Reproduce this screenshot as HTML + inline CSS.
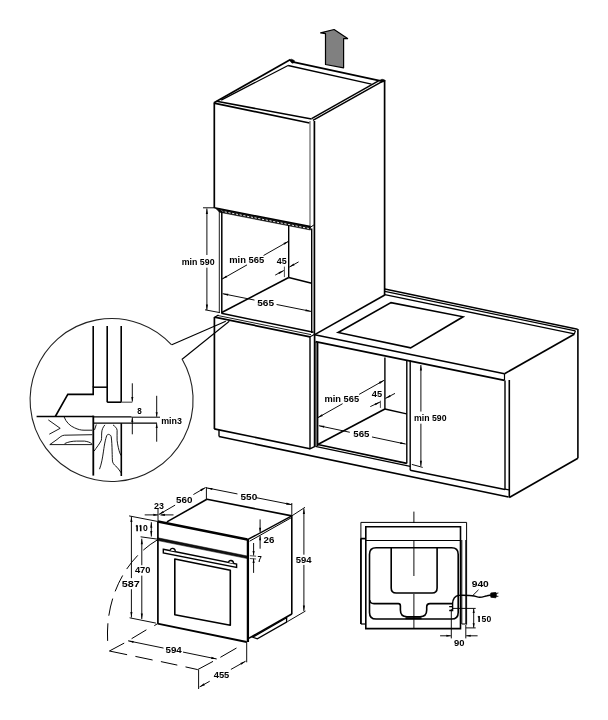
<!DOCTYPE html>
<html><head><meta charset="utf-8"><style>
html,body{margin:0;padding:0;background:#fff;}
svg{display:block;}
text{font-family:"Liberation Sans",sans-serif;fill:#000;}
svg{will-change:transform;}
</style></head><body>
<svg width="608" height="720" viewBox="0 0 608 720" stroke-linecap="butt">
<rect width="608" height="720" fill="#fff"/>
<polygon points="334.1,29.5 347.6,38.6 343.6,38.5 343.6,67.8 325.5,64.5 325.5,33.6 320.6,32.8" stroke="#000" stroke-width="1.2" fill="#808080"  stroke-linejoin="round"/>
<line x1="214" y1="102.7" x2="290.5" y2="59.6" stroke="#000" stroke-width="1.7" />
<line x1="221.2" y1="100.1" x2="288.1" y2="65.5" stroke="#000" stroke-width="1.3" />
<line x1="292.5" y1="61.8" x2="380.5" y2="80.9" stroke="#000" stroke-width="1.7" />
<line x1="288.1" y1="65.5" x2="371.5" y2="84.1" stroke="#000" stroke-width="1.3" />
<line x1="311.6" y1="118.6" x2="378.5" y2="80.8" stroke="#000" stroke-width="1.5" />
<line x1="312.9" y1="120.3" x2="384.2" y2="80.4" stroke="#000" stroke-width="1.5" />
<line x1="216.6" y1="101.2" x2="311.6" y2="119.1" stroke="#000" stroke-width="1.5" />
<line x1="214" y1="103.2" x2="309.6" y2="123" stroke="#000" stroke-width="1.7" />
<polygon points="289.5,60.2 291.5,59.2 294.3,60.5 294.3,62.6 292,63.2" stroke="#000" stroke-width="0.6" fill="#000" stroke-linejoin="miter" />
<polygon points="379.5,80.4 382,79.2 384.8,80 384.8,81.5 381.5,82.2" stroke="#000" stroke-width="0.6" fill="#000" stroke-linejoin="miter" />
<line x1="214.3" y1="102.5" x2="214.3" y2="208" stroke="#000" stroke-width="1.7" />
<line x1="310.0" y1="121" x2="310.0" y2="227" stroke="#666" stroke-width="1.2" />
<line x1="314.4" y1="121" x2="314.4" y2="335" stroke="#000" stroke-width="1.7" />
<line x1="384.6" y1="80" x2="384.6" y2="295.5" stroke="#000" stroke-width="1.7" />
<line x1="214.3" y1="207.8" x2="310.5" y2="226.6" stroke="#000" stroke-width="1.6" />
<polygon points="216,208.6 310.5,227.2 310.5,230.0 219.5,212.2" stroke="#000" stroke-width="0.6" fill="#111" stroke-linejoin="miter" />
<line x1="221" y1="211.1" x2="309" y2="228.5" stroke="#fff" stroke-width="0.9" stroke-dasharray="2.2,1.6"/>
<line x1="219.3" y1="210" x2="219.3" y2="313" stroke="#000" stroke-width="0.9" />
<line x1="221.8" y1="211" x2="221.8" y2="313" stroke="#000" stroke-width="1.5" />
<line x1="288.7" y1="225" x2="288.7" y2="277.5" stroke="#000" stroke-width="1.4" />
<line x1="288.7" y1="277.5" x2="311.7" y2="283.2" stroke="#000" stroke-width="1.4" />
<line x1="288.7" y1="277.5" x2="221.3" y2="312.8" stroke="#000" stroke-width="1.6" />
<line x1="221.3" y1="313.3" x2="313.5" y2="332.2" stroke="#000" stroke-width="1.5" />
<line x1="217.8" y1="315.5" x2="311" y2="334.6" stroke="#000" stroke-width="0.9" />
<line x1="214.6" y1="317.2" x2="310" y2="336.8" stroke="#000" stroke-width="1.7" />
<line x1="214.6" y1="317.2" x2="218.5" y2="315.0" stroke="#000" stroke-width="1.2" />
<line x1="310" y1="336.8" x2="314.4" y2="334.5" stroke="#000" stroke-width="1.2" />
<line x1="214.4" y1="317" x2="214.4" y2="429" stroke="#000" stroke-width="1.7" />
<line x1="214.2" y1="428.9" x2="310" y2="448.7" stroke="#000" stroke-width="1.6" />
<line x1="310" y1="336.5" x2="310" y2="448.7" stroke="#000" stroke-width="1.4" />
<line x1="314.6" y1="335" x2="314.6" y2="446.5" stroke="#000" stroke-width="1.7" />
<line x1="309.4" y1="449.2" x2="315" y2="446.3" stroke="#000" stroke-width="1.4" />
<line x1="219" y1="429.8" x2="219" y2="436.5" stroke="#000" stroke-width="1.4" />
<line x1="219" y1="436.5" x2="508.5" y2="497" stroke="#000" stroke-width="1.6" />
<line x1="384.8" y1="295" x2="314.7" y2="334.6" stroke="#000" stroke-width="1.6" />
<line x1="384.8" y1="289.0" x2="577.6" y2="329.3" stroke="#000" stroke-width="1.5" />
<line x1="384.8" y1="291.3" x2="575.4" y2="330.9" stroke="#000" stroke-width="1.3" />
<line x1="384.8" y1="294.6" x2="574.4" y2="333.9" stroke="#000" stroke-width="1.4" />
<line x1="575.4" y1="330.9" x2="574.2" y2="334.2" stroke="#000" stroke-width="1.2" />
<line x1="577.9" y1="329" x2="577.9" y2="458.3" stroke="#000" stroke-width="1.6" />
<line x1="574.2" y1="334.2" x2="504.5" y2="373.7" stroke="#000" stroke-width="1.6" />
<line x1="314.7" y1="334.8" x2="504.5" y2="373.7" stroke="#000" stroke-width="1.6" />
<line x1="315.5" y1="341.6" x2="504.5" y2="380.4" stroke="#000" stroke-width="1.6" />
<line x1="504.5" y1="373.7" x2="504.5" y2="380.4" stroke="#000" stroke-width="1.2" />
<polygon points="338.1,332.5 391,302.6 463.1,316.8 410.6,347.9" stroke="#000" stroke-width="1.6" fill="none" stroke-linejoin="miter" />
<line x1="509.3" y1="380" x2="509.3" y2="497.5" stroke="#000" stroke-width="1.6" />
<line x1="505.0" y1="380.5" x2="505.0" y2="489.5" stroke="#000" stroke-width="1.4" />
<line x1="410.2" y1="360.6" x2="410.2" y2="470.3" stroke="#000" stroke-width="1.4" />
<line x1="410.2" y1="470.3" x2="505" y2="489.5" stroke="#000" stroke-width="1.6" />
<line x1="505" y1="489.2" x2="509" y2="489.8" stroke="#000" stroke-width="1.2" />
<line x1="577.9" y1="458.3" x2="509.3" y2="497.5" stroke="#000" stroke-width="1.6" />
<line x1="316.0" y1="342" x2="316.0" y2="446" stroke="#000" stroke-width="1.0" />
<line x1="317.6" y1="342.5" x2="317.6" y2="446" stroke="#000" stroke-width="1.6" />
<line x1="384.9" y1="357.6" x2="384.9" y2="409" stroke="#000" stroke-width="1.4" />
<line x1="384.9" y1="409" x2="406.6" y2="413.9" stroke="#000" stroke-width="1.4" />
<line x1="384.9" y1="409" x2="317.8" y2="444.5" stroke="#000" stroke-width="1.6" />
<line x1="317.8" y1="444.5" x2="406.8" y2="463.4" stroke="#000" stroke-width="1.6" />
<line x1="315.3" y1="446.3" x2="410.2" y2="466.3" stroke="#000" stroke-width="1.3" />
<line x1="406.8" y1="360" x2="406.8" y2="463.4" stroke="#000" stroke-width="1.4" />
<line x1="203" y1="207.8" x2="214" y2="207.8" stroke="#000" stroke-width="0.95" />
<line x1="206.9" y1="208.5" x2="206.9" y2="254.987" stroke="#000" stroke-width="0.95" />
<line x1="206.9" y1="267.67449999999997" x2="206.9" y2="310.0" stroke="#000" stroke-width="0.95" />
<polygon points="206.90,208.50 207.95,214.00 205.85,214.00" fill="#000"/>
<polygon points="206.90,310.00 205.85,304.50 207.95,304.50" fill="#000"/>
<line x1="205" y1="309.8" x2="219.8" y2="312.6" stroke="#000" stroke-width="0.95" />
<text x="181.7" y="264.8" font-size="9.5" font-weight="bold" textLength="32.9" lengthAdjust="spacingAndGlyphs">min 590</text>
<line x1="222" y1="279.1" x2="247.0125" y2="264.8875" stroke="#000" stroke-width="0.95" />
<line x1="263.5541" y1="255.4883" x2="288.7" y2="241.2" stroke="#000" stroke-width="0.95" />
<polygon points="222.00,279.10 226.26,275.47 227.30,277.30" fill="#000"/>
<polygon points="288.70,241.20 284.44,244.83 283.40,243.00" fill="#000"/>
<text x="229.2" y="263.2" font-size="9.5" font-weight="bold" textLength="35.0" lengthAdjust="spacingAndGlyphs">min 565</text>
<text x="276.8" y="263.6" font-size="9.5" font-weight="bold" textLength="9.9" lengthAdjust="spacingAndGlyphs">45</text>
<line x1="275.2" y1="275.1" x2="283.8" y2="270.5" stroke="#000" stroke-width="0.95" />
<polygon points="283.80,270.50 279.45,274.02 278.45,272.17" fill="#000"/>
<line x1="298.6" y1="261.9" x2="289.3" y2="267.1" stroke="#000" stroke-width="0.95" />
<polygon points="289.30,267.10 293.59,263.50 294.61,265.33" fill="#000"/>
<line x1="284.4" y1="266.6" x2="284.4" y2="277.1" stroke="#000" stroke-width="0.7" />
<line x1="222.7" y1="293.7" x2="254.488" y2="300.072" stroke="#000" stroke-width="0.95" />
<line x1="276.563" y1="304.49699999999996" x2="311.0" y2="311.4" stroke="#000" stroke-width="0.95" />
<polygon points="222.70,293.70 228.30,293.75 227.89,295.81" fill="#000"/>
<polygon points="311.00,311.40 305.40,311.35 305.81,309.29" fill="#000"/>
<line x1="311.7" y1="228.5" x2="311.7" y2="333" stroke="#000" stroke-width="1.4" />
<line x1="309.6" y1="227.8" x2="313.8" y2="225" stroke="#000" stroke-width="1.0" />
<text x="257.2" y="305.6" font-size="9.5" font-weight="bold" textLength="16.8" lengthAdjust="spacingAndGlyphs">565</text>
<line x1="317.6" y1="417.8" x2="342.60400000000004" y2="403.7" stroke="#000" stroke-width="0.95" />
<line x1="359.096" y1="394.40000000000003" x2="384.1" y2="380.3" stroke="#000" stroke-width="0.95" />
<polygon points="317.60,417.80 321.88,414.18 322.91,416.01" fill="#000"/>
<polygon points="384.10,380.30 379.82,383.92 378.79,382.09" fill="#000"/>
<text x="324.5" y="402.4" font-size="9.5" font-weight="bold" textLength="34.6" lengthAdjust="spacingAndGlyphs">min 565</text>
<text x="371.8" y="396.8" font-size="9.5" font-weight="bold" textLength="10.3" lengthAdjust="spacingAndGlyphs">45</text>
<line x1="370.3" y1="406.6" x2="380.1" y2="402" stroke="#000" stroke-width="0.95" />
<polygon points="380.10,402.00 375.57,405.29 374.68,403.39" fill="#000"/>
<line x1="395" y1="393.4" x2="385.4" y2="398.4" stroke="#000" stroke-width="0.95" />
<polygon points="385.40,398.40 389.79,394.93 390.76,396.79" fill="#000"/>
<line x1="380.4" y1="400.7" x2="380.4" y2="407.9" stroke="#000" stroke-width="0.7" />
<line x1="318.8" y1="425.7" x2="349.8233" y2="432.2688" stroke="#000" stroke-width="0.95" />
<line x1="371.9828" y1="436.9608" x2="405.7" y2="444.1" stroke="#000" stroke-width="0.95" />
<polygon points="318.80,425.70 324.40,425.81 323.96,427.87" fill="#000"/>
<polygon points="405.70,444.10 400.10,443.99 400.54,441.93" fill="#000"/>
<text x="353.3" y="437.2" font-size="9.5" font-weight="bold" textLength="16.2" lengthAdjust="spacingAndGlyphs">565</text>
<line x1="420.9" y1="365" x2="420.9" y2="411.552" stroke="#000" stroke-width="0.95" />
<line x1="420.9" y1="423.69599999999997" x2="420.9" y2="466.2" stroke="#000" stroke-width="0.95" />
<polygon points="420.90,365.00 421.95,370.50 419.85,370.50" fill="#000"/>
<polygon points="420.90,466.20 419.85,460.70 421.95,460.70" fill="#000"/>
<line x1="411.8" y1="464.4" x2="422.7" y2="467.4" stroke="#000" stroke-width="0.95" />
<text x="414.0" y="420.6" font-size="9.5" font-weight="bold" textLength="32.5" lengthAdjust="spacingAndGlyphs">min 590</text>
<line x1="171.8" y1="344.8" x2="225.8" y2="321.3" stroke="#000" stroke-width="1.1" />
<line x1="181.8" y1="359.5" x2="229.3" y2="321.3" stroke="#000" stroke-width="1.1" />
<path d="M182.19,359.27 A81.5,81.5 0 1 1 171.67,344.92" stroke="#222" stroke-width="1.1" fill="none" />
<line x1="93.2" y1="326" x2="93.2" y2="387.2" stroke="#000" stroke-width="1.6" />
<line x1="93.2" y1="387.2" x2="107.2" y2="387.2" stroke="#000" stroke-width="1.5" />
<line x1="107.2" y1="326" x2="107.2" y2="402.2" stroke="#000" stroke-width="1.6" />
<line x1="121.2" y1="326" x2="121.2" y2="402.2" stroke="#000" stroke-width="1.6" />
<line x1="107.2" y1="402.2" x2="121.2" y2="402.2" stroke="#000" stroke-width="1.6" />
<line x1="121.2" y1="402.2" x2="132.3" y2="402.2" stroke="#555" stroke-width="1.2" />
<polyline points="93.2,386.6 93.2,394.4 67.8,394.4 55.3,416.5" stroke="#000" stroke-width="1.6" fill="none" stroke-linejoin="miter" />
<line x1="36.6" y1="416.5" x2="93.3" y2="416.5" stroke="#000" stroke-width="1.6" />
<line x1="93.3" y1="415.6" x2="93.3" y2="475.6" stroke="#000" stroke-width="1.8" />
<line x1="93.3" y1="416.8" x2="131.5" y2="416.8" stroke="#000" stroke-width="1.3" />
<line x1="93.3" y1="423.2" x2="157" y2="423.2" stroke="#000" stroke-width="1.3" />
<line x1="121.3" y1="423.2" x2="121.3" y2="476" stroke="#000" stroke-width="1.6" />
<line x1="93.3" y1="417.5" x2="157" y2="417.5" stroke="#000" stroke-width="0.0" />
<line x1="131.5" y1="417.2" x2="160" y2="417.2" stroke="#000" stroke-width="1.0" />
<line x1="132.3" y1="383.3" x2="132.3" y2="401.6" stroke="#000" stroke-width="0.95" />
<polygon points="132.30,401.60 131.25,397.10 133.35,397.10" fill="#000"/>
<line x1="132.3" y1="434.3" x2="132.3" y2="417.5" stroke="#000" stroke-width="0.95" />
<polygon points="132.30,417.50 133.35,422.00 131.25,422.00" fill="#000"/>
<line x1="156.7" y1="395.8" x2="156.7" y2="416.8" stroke="#000" stroke-width="0.95" />
<polygon points="156.70,416.80 155.65,412.30 157.75,412.30" fill="#000"/>
<line x1="156.7" y1="441.7" x2="156.7" y2="423.5" stroke="#000" stroke-width="0.95" />
<polygon points="156.70,423.50 157.75,428.00 155.65,428.00" fill="#000"/>
<text x="137.2" y="413.5" font-size="8.5" font-weight="bold" textLength="4.5" lengthAdjust="spacingAndGlyphs">8</text>
<text x="161.2" y="423.6" font-size="8.5" font-weight="bold" textLength="20.7" lengthAdjust="spacingAndGlyphs">min3</text>
<path d="M64.1,416.9 C66,422 70,426 74.5,427.8 C78,429.5 81,430.2 84,430.2 L92.3,430.2" stroke="#000" stroke-width="0.9" fill="none" />
<path d="M48.3,419.9 L60.2,428.3 L49.3,434.2" stroke="#000" stroke-width="0.9" fill="none" />
<path d="M49.8,444.6 L57,439.5 C60,437 62,435.2 64.6,435.2 L92.3,434.7" stroke="#000" stroke-width="0.9" fill="none" />
<path d="M49.8,444.6 L92.3,444.6" stroke="#000" stroke-width="0.9" fill="none" />
<path d="M64.6,443.6 C68,442 72,441.1 76.5,441.1 L84.4,441.1 C88,441.5 90,442.5 91.8,443.6" stroke="#000" stroke-width="0.9" fill="none" />
<path d="M96.3,424.5 L94.5,429.9" stroke="#000" stroke-width="0.9" fill="none" />
<path d="M104.9,424.9 C103,427 101.7,430 101.7,433 C101.5,436 101.8,438 101.3,440.3 C99.5,444 96.5,447.5 94.1,451.1" stroke="#000" stroke-width="0.9" fill="none" />
<path d="M99.5,469.2 C101.5,464 102.5,458 103.5,451.1 C104.5,444 105.5,439 106.7,435.8 C107.3,434.5 108,434.2 108.5,434.4 C110,434.6 111,435.5 111.2,436.7 C111.8,441 112,446 112.1,451.1 C112.3,456 112.2,459.5 112.6,461.9 C113.5,464.5 115.5,466 117.1,467.3 C118.5,469 120,471 121.1,472.8" stroke="#000" stroke-width="0.9" fill="none" />
<path d="M113,424.9 C115,426.5 117,428 117.1,430.3 C117.3,433.5 116.8,437 117.1,440.3 C117.6,445 118.8,450 119.8,452.9 L121.1,455.6" stroke="#000" stroke-width="0.9" fill="none" />
<line x1="157.9" y1="521.5" x2="157.9" y2="623.8" stroke="#000" stroke-width="1.7" />
<line x1="157.9" y1="521.6" x2="247.4" y2="539.6" stroke="#000" stroke-width="2.6" />
<line x1="157.6" y1="623.6" x2="246.7" y2="642" stroke="#000" stroke-width="1.8" />
<line x1="247.9" y1="538.8" x2="247.9" y2="642" stroke="#000" stroke-width="2.3" />
<polygon points="157.9,537.8 247.4,556.0 247.4,558.6 157.9,540.6" stroke="#000" stroke-width="0.5" fill="#111" stroke-linejoin="miter" />
<polygon points="163.3,549.3 236.6,564.0 236.6,567.5 163.3,552.9" stroke="#000" stroke-width="1.4" fill="#fff" stroke-linejoin="miter" />
<path d="M170.3,550.4 Q170.4,548.2 172.7,548.3 Q175.2,548.5 175.3,551.2" stroke="#000" stroke-width="1.3" fill="#fff" />
<path d="M228.6,562.6 Q228.7,560.4 231,560.5 Q233.5,560.7 233.6,563.4" stroke="#000" stroke-width="1.3" fill="#fff" />
<polygon points="174.8,559.0 230.3,570.2 230.3,625.3 174.8,614.8" stroke="#000" stroke-width="1.6" fill="none"  stroke-linejoin="round"/>
<line x1="166.9" y1="521.9" x2="206.9" y2="499.3" stroke="#000" stroke-width="1.6" />
<line x1="206.9" y1="499.3" x2="291.8" y2="515.9" stroke="#000" stroke-width="1.6" />
<line x1="291.8" y1="515.9" x2="248.4" y2="539.2" stroke="#000" stroke-width="1.4" />
<line x1="291.5" y1="517.6" x2="249.6" y2="541.2" stroke="#000" stroke-width="1.0" />
<line x1="291.8" y1="515.9" x2="291.8" y2="614.2" stroke="#000" stroke-width="1.6" />
<line x1="248.6" y1="638.4" x2="291.8" y2="614.0" stroke="#000" stroke-width="1.6" />
<polygon points="252.7,637.2 286.6,617.6 286.6,622.1 257.3,638.9" stroke="#000" stroke-width="1.3" fill="#fff" stroke-linejoin="miter" />
<line x1="158.7" y1="514.6" x2="175.11499999999998" y2="505.115" stroke="#000" stroke-width="0.95" />
<line x1="193.406" y1="494.546" x2="205.6" y2="487.5" stroke="#000" stroke-width="0.95" />
<polygon points="158.70,514.60 162.94,510.94 163.99,512.76" fill="#000"/>
<polygon points="205.60,487.50 201.36,491.16 200.31,489.34" fill="#000"/>
<line x1="206.4" y1="487" x2="206.4" y2="499" stroke="#000" stroke-width="0.95" />
<text x="176.0" y="503.2" font-size="9.5" font-weight="bold" textLength="16.4" lengthAdjust="spacingAndGlyphs">560</text>
<line x1="206.9" y1="487.9" x2="237.464" y2="493.948" stroke="#000" stroke-width="0.95" />
<line x1="256.142" y1="497.644" x2="291.8" y2="504.7" stroke="#000" stroke-width="0.95" />
<polygon points="206.90,487.90 212.50,487.94 212.09,490.00" fill="#000"/>
<polygon points="291.80,504.70 286.20,504.66 286.61,502.60" fill="#000"/>
<line x1="291.8" y1="503" x2="291.8" y2="515.9" stroke="#000" stroke-width="0.95" />
<text x="240.5" y="499.8" font-size="9.5" font-weight="bold" textLength="16.7" lengthAdjust="spacingAndGlyphs">550</text>
<line x1="291.8" y1="515.9" x2="305" y2="507.3" stroke="#000" stroke-width="0.95" />
<line x1="287.3" y1="621.7" x2="305.5" y2="611" stroke="#000" stroke-width="0.95" />
<line x1="303.9" y1="508.6" x2="303.9" y2="554.6800000000001" stroke="#000" stroke-width="0.95" />
<line x1="303.9" y1="564.9200000000001" x2="303.9" y2="611" stroke="#000" stroke-width="0.95" />
<polygon points="303.90,508.60 304.95,514.10 302.85,514.10" fill="#000"/>
<polygon points="303.90,611.00 302.85,605.50 304.95,605.50" fill="#000"/>
<text x="295.7" y="563.0" font-size="9.5" font-weight="bold" textLength="15.8" lengthAdjust="spacingAndGlyphs">594</text>
<line x1="260.1" y1="519.4" x2="260.1" y2="532.3" stroke="#000" stroke-width="0.95" />
<polygon points="260.10,532.30 259.05,527.80 261.15,527.80" fill="#000"/>
<line x1="260.1" y1="548.7" x2="260.1" y2="535.8" stroke="#000" stroke-width="0.95" />
<polygon points="260.10,535.80 261.15,540.30 259.05,540.30" fill="#000"/>
<text x="263.6" y="542.5" font-size="9.5" font-weight="bold" textLength="10.8" lengthAdjust="spacingAndGlyphs">26</text>
<line x1="253.6" y1="543" x2="253.6" y2="555.5" stroke="#000" stroke-width="0.95" />
<polygon points="253.60,555.50 252.55,551.00 254.65,551.00" fill="#000"/>
<line x1="253.6" y1="572.9" x2="253.6" y2="558.6" stroke="#000" stroke-width="0.95" />
<polygon points="253.60,558.60 254.65,563.10 252.55,563.10" fill="#000"/>
<line x1="249.8" y1="555.7" x2="256.1" y2="556.2" stroke="#000" stroke-width="0.7" />
<line x1="249.8" y1="558.5" x2="256.1" y2="559" stroke="#000" stroke-width="0.7" />
<text x="257.6" y="562.2" font-size="9.5" font-weight="bold" textLength="4.3" lengthAdjust="spacingAndGlyphs">7</text>
<line x1="144.7" y1="514.9" x2="157.9" y2="514.9" stroke="#000" stroke-width="0.95" />
<polygon points="157.90,514.90 153.40,515.95 153.40,513.85" fill="#000"/>
<line x1="173.5" y1="514.9" x2="160.4" y2="514.9" stroke="#000" stroke-width="0.95" />
<polygon points="160.40,514.90 164.90,513.85 164.90,515.95" fill="#000"/>
<line x1="158.0" y1="508" x2="158.0" y2="521" stroke="#000" stroke-width="0.95" />
<text x="154.1" y="508.8" font-size="9.5" font-weight="bold" textLength="9.9" lengthAdjust="spacingAndGlyphs">23</text>
<line x1="151.3" y1="522.2" x2="151.3" y2="536.6" stroke="#000" stroke-width="0.95" />
<polygon points="151.30,522.20 152.35,527.70 150.25,527.70" fill="#000"/>
<polygon points="151.30,536.60 150.25,531.10 152.35,531.10" fill="#000"/>
<path d="M137.12,531.30 L137.12,525.20 M136.00,526.50 L137.38,525.40" stroke="#000" stroke-width="1.55" fill="none"/>
<path d="M140.72,531.30 L140.72,525.20 M139.60,526.50 L140.97,525.40" stroke="#000" stroke-width="1.55" fill="none"/>
<text x="143.1" y="531.3" font-size="9.5" font-weight="bold" textLength="4.8" lengthAdjust="spacingAndGlyphs">0</text>
<line x1="129.1" y1="515.9" x2="157.9" y2="521.5" stroke="#000" stroke-width="0.95" />
<line x1="140.6" y1="536.8" x2="157.9" y2="539.2" stroke="#000" stroke-width="0.95" />
<line x1="131.4" y1="516.5" x2="131.4" y2="578.11" stroke="#000" stroke-width="0.95" />
<line x1="131.4" y1="589.22" x2="131.4" y2="617.5" stroke="#000" stroke-width="0.95" />
<polygon points="131.40,516.50 132.45,522.00 130.35,522.00" fill="#000"/>
<polygon points="131.40,617.50 130.35,612.00 132.45,612.00" fill="#000"/>
<text x="121.7" y="587.0" font-size="9.5" font-weight="bold" textLength="18.1" lengthAdjust="spacingAndGlyphs">587</text>
<line x1="141.8" y1="538.7" x2="141.8" y2="565.1990000000001" stroke="#000" stroke-width="0.95" />
<line x1="141.8" y1="575.638" x2="141.8" y2="619.0" stroke="#000" stroke-width="0.95" />
<polygon points="141.80,538.70 142.85,544.20 140.75,544.20" fill="#000"/>
<polygon points="141.80,619.00 140.75,613.50 142.85,613.50" fill="#000"/>
<text x="134.9" y="573.1" font-size="9.5" font-weight="bold" textLength="15.6" lengthAdjust="spacingAndGlyphs">470</text>
<line x1="129.6" y1="617.8" x2="155.9" y2="623.1" stroke="#000" stroke-width="0.95" />
<path d="M157.5,539.8 C125,559 105,598 107.7,642" stroke="#000" stroke-width="1.0" fill="none" stroke-dasharray="17.6,7.6"/>
<line x1="157.6" y1="623.6" x2="154.3" y2="625.7" stroke="#000" stroke-width="1.0" />
<line x1="146.4" y1="629.8" x2="131.6" y2="638.7" stroke="#000" stroke-width="1.0" />
<line x1="124.2" y1="643.1" x2="109.4" y2="651" stroke="#000" stroke-width="1.0" />
<line x1="109.4" y1="651" x2="127.1" y2="654.7" stroke="#000" stroke-width="1.0" />
<line x1="135.4" y1="656.4" x2="152.6" y2="660" stroke="#000" stroke-width="1.0" />
<line x1="160.9" y1="661.6" x2="177.3" y2="665.1" stroke="#000" stroke-width="1.0" />
<line x1="185.5" y1="666.9" x2="197.7" y2="669.6" stroke="#000" stroke-width="1.0" />
<line x1="197.7" y1="669.6" x2="213" y2="661.4" stroke="#000" stroke-width="1.0" />
<line x1="220.4" y1="657.3" x2="236.5" y2="648.0" stroke="#000" stroke-width="1.0" />
<line x1="128.1" y1="640.8" x2="163.54" y2="648.0799999999999" stroke="#000" stroke-width="0.95" />
<line x1="183.03199999999998" y1="652.084" x2="216.7" y2="659" stroke="#000" stroke-width="0.95" />
<polygon points="128.10,640.80 133.70,640.88 133.28,642.94" fill="#000"/>
<polygon points="216.70,659.00 211.10,658.92 211.52,656.86" fill="#000"/>
<text x="165.5" y="653.1" font-size="9.5" font-weight="bold" textLength="16.3" lengthAdjust="spacingAndGlyphs">594</text>
<line x1="246.7" y1="642" x2="246.7" y2="662.3" stroke="#000" stroke-width="0.95" />
<line x1="198.6" y1="669.8" x2="198.6" y2="689" stroke="#000" stroke-width="0.95" />
<line x1="199.6" y1="686.9" x2="209.72" y2="681.246" stroke="#000" stroke-width="0.95" />
<line x1="230.88" y1="669.424" x2="245.6" y2="661.2" stroke="#000" stroke-width="0.95" />
<polygon points="199.60,686.90 203.89,683.30 204.91,685.13" fill="#000"/>
<polygon points="245.60,661.20 241.31,664.80 240.29,662.97" fill="#000"/>
<text x="213.7" y="677.7" font-size="9.5" font-weight="bold" textLength="15.6" lengthAdjust="spacingAndGlyphs">455</text>
<line x1="413.9" y1="511.6" x2="413.9" y2="523" stroke="#000" stroke-width="0.95" />
<line x1="413.9" y1="540" x2="413.9" y2="576" stroke="#000" stroke-width="0.95" />
<line x1="413.9" y1="594" x2="413.9" y2="628.5" stroke="#000" stroke-width="0.95" />
<polyline points="360.9,624 360.9,522.4 466.6,522.4 466.6,624.7" stroke="#000" stroke-width="1.0" fill="none" stroke-linejoin="miter" />
<line x1="360.9" y1="538.6" x2="360.9" y2="624" stroke="#000" stroke-width="1.7" />
<line x1="360.9" y1="538.6" x2="365.5" y2="538.6" stroke="#000" stroke-width="1.7" />
<line x1="360.9" y1="624" x2="365" y2="624" stroke="#000" stroke-width="1.2" />
<polygon points="365.8,628.6 365.8,526.7 460.5,526.7 460.5,628.6" stroke="#000" stroke-width="1.6" fill="none" stroke-linejoin="miter" />
<line x1="365.8" y1="540.5" x2="460.5" y2="540.5" stroke="#000" stroke-width="1.0" />
<polyline points="461.8,540 461.8,624 465.8,624 465.8,540" stroke="#000" stroke-width="1.0" fill="none" stroke-linejoin="miter" />
<path d="M376.1,547.8 L451.6,547.8 Q458.2,547.8 458.2,554.4 L458.2,612.4 Q458.2,619 451.6,619 L376.1,619 Q369.5,619 369.5,612.4 L369.5,554.4 Q369.5,547.8 376.1,547.8 Z" stroke="#000" stroke-width="1.6" fill="none" />
<path d="M391.2,547.8 L391.2,588 Q391.2,593 396.2,593 L432.1,593 Q437.1,593 437.1,588 L437.1,547.8" stroke="#000" stroke-width="1.6" fill="none" />
<path d="M369.7,600 Q370,603.6 374,603.6 L398.4,603.6 Q400.4,603.6 400.4,606 L400.4,610 Q400.4,616.7 407,616.7 L420,616.7 Q426.7,616.7 426.7,610 L426.7,607 Q426.7,603.6 430,603.6 L453,603.6" stroke="#000" stroke-width="1.6" fill="none" />
<line x1="405.5" y1="618.2" x2="421.5" y2="618.2" stroke="#000" stroke-width="2.0" />
<path d="M449.2,606.6 L452.4,606.6 M449.2,610.5 L452.6,610.5 L452.6,603.5 C452.8,599.5 455,596 459,595.3" stroke="#000" stroke-width="1.4" fill="none" />
<path d="M458.5,595.4 C465,595 468,595.5 472.1,595.7 C476,596 477,597.3 479.6,597.3 C483,597.3 485,596 487.1,595.7 L491,595" stroke="#000" stroke-width="1.4" fill="none" />
<polygon points="490.8,593.0 495.8,592.5 496.4,595.0 495.8,597.8 490.8,597.2" stroke="#000" stroke-width="0.8" fill="#000" stroke-linejoin="miter" />
<line x1="496" y1="593.5" x2="498.4" y2="593.0" stroke="#000" stroke-width="0.9" />
<line x1="496" y1="596.3" x2="498.4" y2="596.3" stroke="#000" stroke-width="0.9" />
<line x1="472.6" y1="595.7" x2="478.5" y2="589.8" stroke="#000" stroke-width="0.95" />
<text x="471.7" y="587.2" font-size="9.5" font-weight="bold" textLength="17.1" lengthAdjust="spacingAndGlyphs">940</text>
<line x1="452.6" y1="608.4" x2="475.7" y2="608.4" stroke="#000" stroke-width="0.95" />
<line x1="465.8" y1="627.9" x2="475.7" y2="627.9" stroke="#000" stroke-width="0.95" />
<line x1="473.7" y1="608.6" x2="473.7" y2="627.7" stroke="#000" stroke-width="0.95" />
<polygon points="473.70,608.60 474.75,613.10 472.65,613.10" fill="#000"/>
<polygon points="473.70,627.70 472.65,623.20 474.75,623.20" fill="#000"/>
<path d="M479.12,622.00 L479.12,616.10 M478.00,617.40 L479.38,616.30" stroke="#000" stroke-width="1.55" fill="none"/>
<text x="481.6" y="622.0" font-size="9.5" font-weight="bold" textLength="9.6" lengthAdjust="spacingAndGlyphs">50</text>
<line x1="451.3" y1="609" x2="451.3" y2="638.4" stroke="#000" stroke-width="0.95" />
<line x1="465.8" y1="625" x2="465.8" y2="638.4" stroke="#000" stroke-width="0.95" />
<line x1="440.1" y1="635.8" x2="450.9" y2="635.8" stroke="#000" stroke-width="0.95" />
<polygon points="450.90,635.80 446.40,636.85 446.40,634.75" fill="#000"/>
<line x1="477.6" y1="635.8" x2="466.2" y2="635.8" stroke="#000" stroke-width="0.95" />
<polygon points="466.20,635.80 470.70,634.75 470.70,636.85" fill="#000"/>
<text x="454.0" y="646.4" font-size="9.5" font-weight="bold" textLength="10.5" lengthAdjust="spacingAndGlyphs">90</text>
</svg>
</body></html>
